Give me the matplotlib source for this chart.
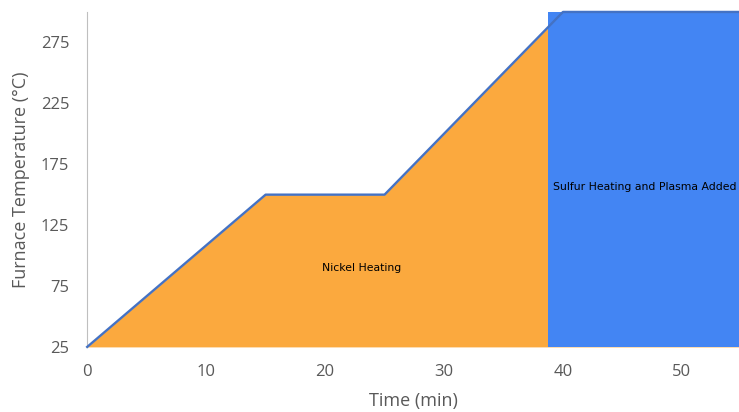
import matplotlib
matplotlib.use("Agg")
import matplotlib.pyplot as plt

# furnace profile
time_min = [0, 15, 25, 40, 55]
temp_c = [25, 150, 150, 300, 300]
sulfur_start = 38.7
x_ticks = [0, 10, 20, 30, 40, 50]
y_ticks = [25, 75, 125, 175, 225, 275]

plt.rcParams["font.family"] = ["Open Sans", "DejaVu Sans"]
grey = "#595959"

fig = plt.figure(figsize=(7.39, 4.12), dpi=100)
ax = fig.add_axes([0.118, 0.158, 0.882, 0.813])

ax.fill_between(time_min, temp_c, 25, color="#FBA93E", lw=0, zorder=1)
ax.axvspan(sulfur_start, 55, color="#4385F3", lw=0, zorder=2)
ax.plot(time_min, temp_c, color="#4472C4", lw=1.7, zorder=3, clip_on=False)

ax.text(23.1, 90, "Nickel Heating", fontsize=7.8, ha="center", va="center",
        family="DejaVu Sans", zorder=4)
ax.text(46.9, 156, "Sulfur Heating and Plasma Added", fontsize=7.8, ha="center",
        va="center", family="DejaVu Sans", zorder=4)

ax.set_xlim(0, 54.8)
ax.set_ylim(25, 300)
ax.set_xticks(x_ticks)
ax.set_yticks(y_ticks)
ax.tick_params(length=0, labelsize=12, colors=grey)
ax.tick_params(axis="y", pad=13)
ax.tick_params(axis="x", pad=12)
for s in ["top", "right", "bottom"]:
    ax.spines[s].set_visible(False)
ax.spines["left"].set_color("#BFBFBF")
ax.set_xlabel("Time (min)", fontsize=13, color=grey, labelpad=9)
ax.set_ylabel("Furnace Temperature (°C)", fontsize=13, color=grey, labelpad=8)

fig.savefig("out.png", dpi=100)
